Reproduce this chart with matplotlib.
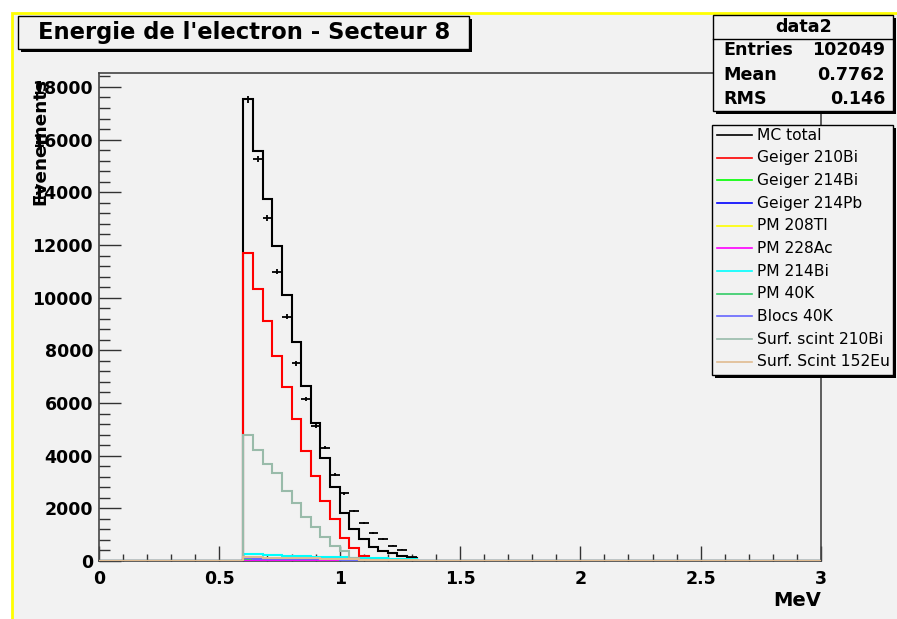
import numpy as np
import matplotlib
matplotlib.use("Agg")
import matplotlib.pyplot as plt
from matplotlib.patches import Rectangle
from matplotlib.lines import Line2D
from matplotlib.ticker import MultipleLocator

# binning : 0.04 MeV from 0 to 3, the filled bins start at 0.6 MeV
bin_width = 0.04
first_bin = 15

# MC components (counts per bin, from 0.6 to 1.32 MeV)
mc_total = [17530, 15570, 13750, 11970, 10100, 8330, 6650, 5230, 3900,
            2800, 1830, 1230, 820, 540, 390, 290, 190, 110]
geiger_210bi = [11690, 10340, 9130, 7790, 6620, 5390, 4190, 3230, 2280,
                1580, 890, 500, 190, 40, 0, 0, 0, 0]
geiger_214bi = [40, 40, 30, 30, 30, 30, 30, 30, 20, 20, 20, 20, 10, 10, 10, 10, 0, 0]
geiger_214pb = [30, 30, 20, 20, 20, 20, 20, 20, 20, 10, 10, 10, 10, 10, 0, 0, 0, 0]
pm_208tl = [20, 30, 20, 10, 10, 10, 10, 10, 10, 10, 10, 0, 0, 0, 0, 0, 0, 0]
pm_228ac = [40, 40, 40, 40, 40, 40, 40, 40, 40, 40, 40, 40, 20, 20, 10, 10, 0, 0]
pm_214bi = [270, 260, 220, 210, 200, 190, 180, 170, 160, 150, 140, 130,
            120, 110, 100, 90, 80, 70]
pm_40k = [60, 60, 70, 70, 80, 80, 80, 80, 70, 60, 60, 50, 50, 40, 30, 30, 20, 20]
blocs_40k = [100, 90, 80, 80, 70, 70, 60, 60, 60, 60, 50, 40, 40, 30, 20, 20, 10, 10]
surf_210bi = [4790, 4220, 3680, 3330, 2660, 2190, 1680, 1280, 920, 580,
              390, 110, 30, 20, 10, 0, 0, 0]
surf_152eu = [170, 160, 120, 130, 110, 130, 110, 100, 90, 80, 70, 60,
              50, 45, 40, 30, 25, 20]

# data (points with errors)
data2 = [17530, 15260, 13010, 10990, 9270, 7510, 6160, 5140, 4300, 3270,
         2570, 1890, 1460, 1050, 840, 580, 420, 140]

labels = ["MC total", "Geiger 210Bi", "Geiger 214Bi", "Geiger 214Pb", "PM 208Tl",
          "PM 228Ac", "PM 214Bi", "PM 40K", "Blocs 40K", "Surf. scint 210Bi",
          "Surf. Scint 152Eu"]
colors = ["black", "#ff0000", "#00ff00", "#0000ff", "#ffff00", "#ff00ff",
          "#00ffff", "#33cc66", "#6666ff", "#99bbaa", "#e0bb90"]
series = [mc_total, geiger_210bi, geiger_214bi, geiger_214pb, pm_208tl, pm_228ac,
          pm_214bi, pm_40k, blocs_40k, surf_210bi, surf_152eu]

entries = "102049"
mean = "0.7762"
rms = "0.146"

W, H = 897, 619
bg = "#f2f2f2"
plt.rcParams['font.family'] = ['DejaVu Sans']

def fx(x):
    return x / W

def fy(y):
    return 1 - y / H

fig = plt.figure(figsize=(W / 100, H / 100), dpi=100, facecolor="white")

# grey pad with yellow border
fig.add_artist(Rectangle((fx(12), -0.01), 1.1, fy(13) + 0.01, transform=fig.transFigure,
                         facecolor=bg, edgecolor="#ffff00", lw=2, zorder=-5))

ax = fig.add_axes([fx(99), fy(561), fx(821) - fx(99), fy(73) - fy(561)])
ax.set_facecolor(bg)

edges = np.round(np.arange(0, 3 + bin_width / 2, bin_width), 2)
nb = len(edges) - 1
for vals, col in zip(series, colors):
    full = np.zeros(nb)
    full[first_bin:first_bin + len(vals)] = vals
    ax.stairs(full, edges, color=col, lw=1.5, zorder=3)

d = np.array(data2, dtype=float)
centers = edges[first_bin:first_bin + len(d)] + bin_width / 2
ax.errorbar(centers, d, xerr=bin_width / 2, yerr=np.sqrt(d), fmt="none",
            ecolor="black", elinewidth=1.3, capsize=0, zorder=5)

ax.set_xlim(0, 3)
ax.set_ylim(0, 18530)
ax.xaxis.set_major_locator(MultipleLocator(0.5))
ax.xaxis.set_minor_locator(MultipleLocator(0.1))
ax.yaxis.set_major_locator(MultipleLocator(2000))
ax.yaxis.set_minor_locator(MultipleLocator(400))
ax.xaxis.set_major_formatter(plt.FuncFormatter(lambda v, p: "%g" % v))
ax.tick_params(axis="x", which="major", direction="in", length=10.5, width=1,
               pad=6.5, labelsize=12.5, color="#333333")
ax.tick_params(axis="x", which="minor", direction="in", length=5.3, width=1, color="#333333")
ax.tick_params(axis="y", which="major", direction="in", length=15.8, width=1,
               pad=4.3, labelsize=12.5, color="#333333")
ax.tick_params(axis="y", which="minor", direction="in", length=7.6, width=1, color="#333333")
for lab in ax.get_xticklabels() + ax.get_yticklabels():
    lab.set_fontweight("bold")
for s in ax.spines.values():
    s.set_color("#444444")
    s.set_linewidth(1.2)

fig.text(fx(821), fy(600), "MeV", ha="right", va="center", fontsize=14, fontweight="bold")
fig.text(fx(40), fy(78), "Evenements", rotation=90, ha="center", va="top",
         fontsize=13.2, fontweight="bold")

def box(x0, y0, x1, y1, sh=3):
    fig.add_artist(Rectangle((fx(x0 + sh), fy(y1 + sh)), fx(x1 - x0), fy(y0) - fy(y1),
                             transform=fig.transFigure, facecolor="black",
                             edgecolor="none", zorder=1))
    fig.add_artist(Rectangle((fx(x0), fy(y1)), fx(x1 - x0), fy(y0) - fy(y1),
                             transform=fig.transFigure, facecolor=bg,
                             edgecolor="black", lw=1, zorder=1.1))

# title
box(18, 16, 469, 49, sh=2.5)
fig.text(fx(244), fy(33), "Energie de l'electron - Secteur 8", ha="center", va="center",
         fontsize=16.3, fontweight="bold", zorder=3)

# stats box
box(713, 15, 893, 111)
fig.add_artist(Line2D([fx(713), fx(893)], [fy(39), fy(39)], transform=fig.transFigure,
                      color="black", lw=1, zorder=2))
fig.text(fx(804), fy(27), "data2", ha="center", va="center", fontsize=12.6,
         fontweight="bold", zorder=3)
for i, (k, v) in enumerate([("Entries", entries), ("Mean", mean), ("RMS", rms)]):
    y = 50 + i * 24.7
    fig.text(fx(723), fy(y), k, ha="left", va="center", fontsize=12.6, fontweight="bold", zorder=3)
    fig.text(fx(885), fy(y), v, ha="right", va="center", fontsize=12.6, fontweight="bold", zorder=3)

# legend
box(712, 125, 893, 375)
for i, (lab, col) in enumerate(zip(labels, colors)):
    y = 135 + i * 22.67
    fig.add_artist(Line2D([fx(717), fx(752)], [fy(y), fy(y)], transform=fig.transFigure,
                          color=col, lw=1.2, zorder=2))
    fig.text(fx(757), fy(y), lab, ha="left", va="center", fontsize=11.2, zorder=3)

fig.savefig("out.png", dpi=100, facecolor="white")
